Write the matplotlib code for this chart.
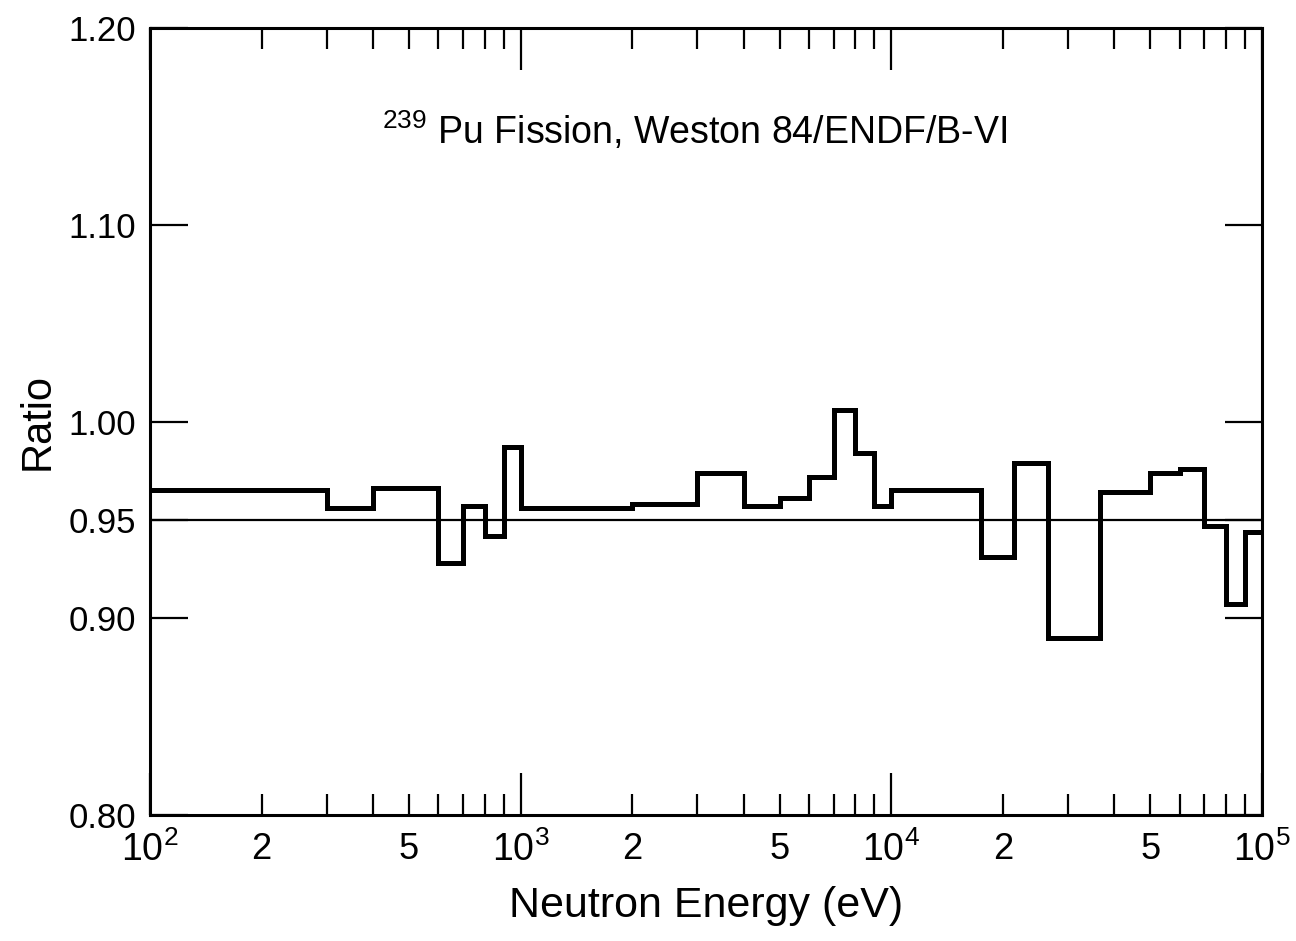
import matplotlib
matplotlib.use('Agg')
import matplotlib.pyplot as plt
import numpy as np

plt.rcParams['font.family'] = ['Liberation Sans', 'DejaVu Sans']
plt.rcParams['mathtext.fontset'] = 'custom'
plt.rcParams['mathtext.rm'] = 'Liberation Sans'
plt.rcParams['mathtext.it'] = 'Liberation Sans'

# bin edges (eV) and ratio per bin
edges = [100, 300, 400, 600, 700, 800, 900, 1000, 2000, 3000, 4000, 5000,
         6000, 7000, 8000, 9000, 10000, 17500, 21500, 26500, 36500, 50000,
         60000, 70000, 80000, 90000, 100000]
ratio = [0.965, 0.956, 0.966, 0.928, 0.957, 0.942, 0.987, 0.956, 0.958,
         0.974, 0.957, 0.961, 0.972, 1.006, 0.984, 0.957, 0.965, 0.931,
         0.979, 0.890, 0.964, 0.974, 0.976, 0.947, 0.907, 0.944]
ref_level = 0.95

yticks = [0.80, 0.90, 0.95, 1.00, 1.10, 1.20]
ytick_labels = ['0.80', '0.90', '0.95', '1.00', '1.10', '1.20']
xmajor = [1e2, 1e3, 1e4, 1e5]
xmajor_labels = [r'$\mathregular{10^{2}}$', r'$\mathregular{10^{3}}$',
                 r'$\mathregular{10^{4}}$', r'$\mathregular{10^{5}}$']

fig = plt.figure(figsize=(12.96, 9.41), dpi=100)
ax = fig.add_axes([0.1157, 0.134, 0.858, 0.836])

ax.stairs(ratio, edges, color='black', linewidth=3.6, baseline=None)
ax.axhline(ref_level, color='black', linewidth=1.6)

ax.set_xscale('log')
ax.set_xlim(1e2, 1e5)
ax.set_ylim(0.80, 1.20)

ax.set_xticks(xmajor)
ax.set_xticklabels(xmajor_labels)
minor = []
minor_labels = []
for dec in [1e2, 1e3, 1e4]:
    for m in range(2, 10):
        minor.append(m * dec)
        minor_labels.append(str(m) if m in (2, 5) else '')
ax.set_xticks(minor, minor=True)
ax.set_xticklabels(minor_labels, minor=True)

ax.set_yticks(yticks)
ax.set_yticklabels(ytick_labels)
ax.tick_params(axis='y', which='major', direction='in', length=27, width=1.6,
               labelsize=25, right=True, pad=10)
ax.tick_params(axis='x', which='major', direction='in', length=30, width=1.6,
               labelsize=27, top=True, pad=12)
ax.tick_params(axis='x', which='minor', direction='in', length=15, width=1.6,
               labelsize=26, top=True, pad=12)

for s in ax.spines.values():
    s.set_linewidth(2.2)

ax.set_xlabel('Neutron Energy (eV)', fontsize=31, labelpad=12)
ax.set_ylabel('Ratio', fontsize=30, labelpad=8)

ax.text(0.49, 0.870, r'$\mathregular{^{239}}$ Pu Fission, Weston 84/ENDF/B-VI',
        transform=ax.transAxes, ha='center', va='center', fontsize=27)

fig.savefig('out.png', dpi=100)
